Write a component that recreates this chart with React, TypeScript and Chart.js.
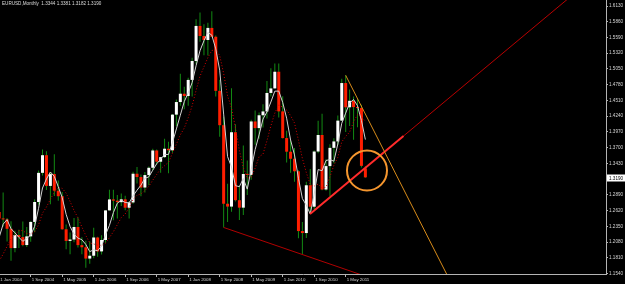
import React, { useEffect, useRef } from 'react';
import { Chart, registerables } from 'chart.js';

Chart.register(...registerables);

// ---- DATA (monthly EURUSD, index 0 = Jan 2004) ----
const opens = [
  1.2597, 1.2482, 1.2468, 1.2307, 1.1976, 1.2199, 1.2165, 1.2028, 1.2177, 1.2425, 1.2767, 1.3267,
  1.3570, 1.3043, 1.3246, 1.2961, 1.2866, 1.2299, 1.2099, 1.2123, 1.2338, 1.2027, 1.1990, 1.1796,
  1.1845, 1.2158, 1.1919, 1.2115, 1.2623, 1.2811, 1.2790, 1.2764, 1.2813, 1.2669, 1.2759, 1.3252,
  1.3195, 1.3015, 1.3229, 1.3354, 1.3651, 1.3458, 1.3537, 1.3681, 1.3654, 1.4266, 1.4482, 1.4625,
  1.4585, 1.4862, 1.5186, 1.5788, 1.5615, 1.5547, 1.5754, 1.5602, 1.4674, 1.4085, 1.2737, 1.2688,
  1.3964, 1.2798, 1.2670, 1.3247, 1.3232, 1.4149, 1.4035, 1.4255, 1.4321, 1.4638, 1.4716, 1.5002,
  1.4322, 1.3864, 1.3630, 1.3509, 1.3294, 1.2268, 1.2234, 1.3054, 1.2686, 1.3633, 1.3917, 1.2981,
  1.3383, 1.3696, 1.3806, 1.4163, 1.4808, 1.4392, 1.4503, 1.4395, 1.4380, 1.3344,
];
const highs = [
  1.2898, 1.2928, 1.2491, 1.2436, 1.2275, 1.2289, 1.2433, 1.2339, 1.2437, 1.2815, 1.3308, 1.3667,
  1.3637, 1.3283, 1.3585, 1.3137, 1.2939, 1.2381, 1.2244, 1.2493, 1.2500, 1.2161, 1.2104, 1.2091,
  1.2323, 1.2169, 1.2197, 1.2625, 1.2979, 1.2977, 1.2888, 1.2912, 1.2875, 1.2778, 1.3286, 1.3366,
  1.3240, 1.3280, 1.3375, 1.3682, 1.3669, 1.3541, 1.3852, 1.3802, 1.4279, 1.4526, 1.4967, 1.4745,
  1.4899, 1.5240, 1.5904, 1.6019, 1.5818, 1.5843, 1.6038, 1.5623, 1.4866, 1.4231, 1.3080, 1.4719,
  1.4101, 1.3046, 1.3738, 1.3480, 1.4179, 1.4338, 1.4304, 1.4445, 1.4844, 1.5062, 1.5145, 1.5144,
  1.4580, 1.3991, 1.3820, 1.3693, 1.3313, 1.2423, 1.3115, 1.3333, 1.3652, 1.4159, 1.4282, 1.3500,
  1.3758, 1.3862, 1.4249, 1.4882, 1.4940, 1.4698, 1.4579, 1.4549, 1.4434, 1.3381,
];
const lows = [
  1.2389, 1.2346, 1.2089, 1.1759, 1.1903, 1.1978, 1.2008, 1.1996, 1.2086, 1.2248, 1.2719, 1.3220,
  1.2974, 1.2728, 1.2869, 1.2790, 1.2289, 1.1954, 1.1871, 1.2077, 1.1986, 1.1872, 1.1640, 1.1709,
  1.1802, 1.1827, 1.1865, 1.2067, 1.2620, 1.2454, 1.2482, 1.2700, 1.2625, 1.2483, 1.2736, 1.3083,
  1.2865, 1.2932, 1.3056, 1.3312, 1.3412, 1.3267, 1.3520, 1.3260, 1.3612, 1.4069, 1.4419, 1.4360,
  1.4420, 1.4575, 1.5135, 1.5515, 1.5285, 1.5281, 1.5593, 1.4578, 1.3886, 1.2330, 1.2423, 1.2600,
  1.2774, 1.2457, 1.2543, 1.2885, 1.3150, 1.3748, 1.3852, 1.4045, 1.4201, 1.4578, 1.4710, 1.4218,
  1.3857, 1.3443, 1.3268, 1.3113, 1.2143, 1.1876, 1.2151, 1.2589, 1.2643, 1.3605, 1.2968, 1.2958,
  1.2871, 1.3430, 1.3746, 1.4155, 1.3968, 1.4070, 1.3837, 1.4051, 1.3360, 1.3182,
];
const closes = [
  1.2482, 1.2468, 1.2307, 1.1976, 1.2199, 1.2165, 1.2028, 1.2177, 1.2425, 1.2767, 1.3267, 1.3570,
  1.3043, 1.3246, 1.2961, 1.2866, 1.2299, 1.2099, 1.2123, 1.2338, 1.2027, 1.1990, 1.1796, 1.1845,
  1.2158, 1.1919, 1.2115, 1.2623, 1.2811, 1.2790, 1.2764, 1.2813, 1.2669, 1.2759, 1.3252, 1.3195,
  1.3015, 1.3229, 1.3354, 1.3651, 1.3458, 1.3537, 1.3681, 1.3654, 1.4266, 1.4482, 1.4625, 1.4585,
  1.4862, 1.5186, 1.5788, 1.5615, 1.5547, 1.5754, 1.5602, 1.4674, 1.4085, 1.2737, 1.2688, 1.3964,
  1.2798, 1.2670, 1.3247, 1.3232, 1.4149, 1.4035, 1.4255, 1.4321, 1.4638, 1.4716, 1.5002, 1.4322,
  1.3864, 1.3630, 1.3509, 1.3294, 1.2268, 1.2234, 1.3054, 1.2686, 1.3633, 1.3917, 1.2981, 1.3383,
  1.3696, 1.3806, 1.4163, 1.4808, 1.4392, 1.4503, 1.4395, 1.4380, 1.3387, 1.3190,
];
// white solid moving average
const maFast = [
  1.2164, 1.2386, 1.2464, 1.2308, 1.2238, 1.2162, 1.2092, 1.2142, 1.2199, 1.2349, 1.2659, 1.3007,
  1.3162, 1.3282, 1.3205, 1.3029, 1.2843, 1.2556, 1.2347, 1.2215, 1.2147, 1.2120, 1.2038, 1.1915,
  1.1947, 1.1930, 1.2009, 1.2204, 1.2367, 1.2585, 1.2747, 1.2795, 1.2759, 1.2751, 1.2873, 1.2969,
  1.3055, 1.3173, 1.3198, 1.3312, 1.3423, 1.3500, 1.3582, 1.3583, 1.3785, 1.4021, 1.4257, 1.4490,
  1.4639, 1.4815, 1.5105, 1.5363, 1.5534, 1.5676, 1.5630, 1.5394, 1.5029, 1.4275, 1.3546, 1.3369,
  1.3047, 1.3030, 1.3170, 1.2987, 1.3325, 1.3666, 1.3918, 1.4190, 1.4312, 1.4483, 1.4669, 1.4670,
  1.4476, 1.4205, 1.3831, 1.3574, 1.3175, 1.2826, 1.2713, 1.2561, 1.2902, 1.3323, 1.3304, 1.3479,
  1.3494, 1.3467, 1.3762, 1.4118, 1.4292, 1.4467, 1.4525, 1.4418, 1.4166, 1.3838,
];
// red dotted moving average
const maSlow = [
  1.1753, 1.1874, 1.2007, 1.2132, 1.2201, 1.2274, 1.2278, 1.2225, 1.2218, 1.2256, 1.2376, 1.2575,
  1.2680, 1.2815, 1.2932, 1.3018, 1.3002, 1.2919, 1.2776, 1.2622, 1.2495, 1.2338, 1.2192, 1.2065,
  1.2047, 1.2025, 1.2024, 1.2059, 1.2157, 1.2257, 1.2378, 1.2499, 1.2563, 1.2668, 1.2810, 1.2882,
  1.2907, 1.2962, 1.3036, 1.3141, 1.3239, 1.3336, 1.3390, 1.3447, 1.3604, 1.3760, 1.3919, 1.4036,
  1.4212, 1.4418, 1.4681, 1.4926, 1.5086, 1.5245, 1.5367, 1.5379, 1.5281, 1.4975, 1.4588, 1.4381,
  1.4038, 1.3652, 1.3358, 1.3178, 1.3186, 1.3348, 1.3544, 1.3588, 1.3818, 1.4074, 1.4294, 1.4430,
  1.4394, 1.4344, 1.4250, 1.4122, 1.3826, 1.3515, 1.3272, 1.3067, 1.3039, 1.3074, 1.3008, 1.3020,
  1.3198, 1.3395, 1.3533, 1.3798, 1.3893, 1.3967, 1.4143, 1.4268, 1.4229, 1.4152,
];

const priceTicks = [
  1.6130, 1.5860, 1.5590, 1.5320, 1.5050, 1.4780, 1.4510, 1.4240, 1.3970, 1.3700, 1.3430,
  1.2890, 1.2620, 1.2350, 1.2080, 1.1810, 1.1540,
];
const timeTickMonths = [0, 8, 16, 24, 32, 40, 48, 56, 64, 72, 80, 88];
const timeTickLabels = [
  '1 Jan 2004', '1 Sep 2004', '1 May 2005', '1 Jan 2006', '1 Sep 2006', '1 May 2007',
  '1 Jan 2008', '1 Sep 2008', '1 May 2009', '1 Jan 2010', '1 Sep 2010', '1 May 2011',
];

// drawn objects, as [monthIndex, price]
const lowerTrend = [[57, 1.2330], [95, 1.1447]];
const supportRay = [[78.93, 1.2560], [150, 1.6567]];
const supportSegment = [[78.93, 1.2560], [102.68, 1.3899]];
const resistanceLine = [[88, 1.4940], [116, 1.1216]];
const circleCenter = [[93.41, 1.3307]];

const titleText = 'EURUSD,Monthly  1.3344 1.3381 1.3182 1.3190';
const lastPrice = 1.3190;

const X_MIN = 0.2032;
const X_MAX = 154.11;
const Y_MIN = 1.15314;
const Y_MAX = 1.6233;

const FONT = '"Liberation Sans", Arial, sans-serif';
const AXIS = '#b4b4b4';
const LABEL = '#d6d6d6';

const toPts = (arr: number[][]) => arr.map(([x, y]) => ({ x, y }));

const overlay = {
  id: 'mtOverlay',
  beforeDraw(chart: any) {
    const { ctx } = chart;
    ctx.save();
    ctx.fillStyle = '#000000';
    ctx.fillRect(0, 0, chart.width, chart.height);
    ctx.restore();
  },
  afterDraw(chart: any) {
    const { ctx, scales, chartArea } = chart;
    ctx.save();
    ctx.font = `4.6px ${FONT}`;
    ctx.fillStyle = '#dcdcdc';
    ctx.textAlign = 'left';
    ctx.textBaseline = 'top';
    ctx.fillText(titleText, 2, 1);
    const y = Math.round(scales.y.getPixelForValue(lastPrice)) + 1;
    const left = chartArea.right;
    ctx.fillStyle = '#ffffff';
    ctx.fillRect(left + 1, y - 3.5, chart.width - left - 1, 7);
    ctx.fillStyle = '#000000';
    ctx.textBaseline = 'middle';
    ctx.fillText(lastPrice.toFixed(4), left + 3, y + 0.5);
    ctx.restore();
  },
};

export default function App() {
  const ref = useRef<HTMLCanvasElement>(null);
  useEffect(() => {
    const idx = closes.map((_, i) => i);
    const chart = new Chart(ref.current as HTMLCanvasElement, {
      type: 'bar',
      data: {
        datasets: [
          {
            type: 'bar',
            label: 'wick',
            data: idx.map((i) => ({ x: i, y: [lows[i], highs[i]] })) as any,
            backgroundColor: '#138a13',
            barThickness: 1,
            grouped: false,
            inflateAmount: 0,
            borderWidth: 0,
            order: 10,
          } as any,
          {
            type: 'bar',
            label: 'body',
            data: idx.map((i) => ({ x: i, y: [opens[i], closes[i]] })) as any,
            backgroundColor: idx.map((i) => (closes[i] >= opens[i] ? '#ffffff' : '#ff1e00')),
            barThickness: 3,
            grouped: false,
            inflateAmount: 0,
            borderWidth: 0,
            minBarLength: 1,
            order: 9,
          } as any,
          {
            type: 'line',
            label: 'slow',
            data: idx.map((i) => ({ x: i, y: maSlow[i] })),
            borderColor: '#d40000',
            borderWidth: 1,
            borderDash: [1, 2],
            pointRadius: 0,
            tension: 0,
            order: 8,
          } as any,
          {
            type: 'line',
            label: 'fast',
            data: idx.map((i) => ({ x: i, y: maFast[i] })),
            borderColor: '#d2d2d2',
            borderWidth: 1,
            pointRadius: 0,
            tension: 0,
            order: 7,
          } as any,
          {
            type: 'line',
            label: 'lowerTrend',
            data: toPts(lowerTrend),
            borderColor: '#b00000',
            borderWidth: 1,
            pointRadius: 0,
            order: 6,
          } as any,
          {
            type: 'line',
            label: 'ray',
            data: toPts(supportRay),
            borderColor: '#b80000',
            borderWidth: 1,
            pointRadius: 0,
            order: 5,
          } as any,
          {
            type: 'line',
            label: 'segment',
            data: toPts(supportSegment),
            borderColor: '#ff2b2b',
            borderWidth: 2,
            pointRadius: 0,
            order: 4,
          } as any,
          {
            type: 'line',
            label: 'resistance',
            data: toPts(resistanceLine),
            borderColor: '#d98c1a',
            borderWidth: 1,
            pointRadius: 0,
            order: 3,
          } as any,
          {
            type: 'line',
            label: 'circle',
            data: toPts(circleCenter),
            showLine: false,
            pointRadius: 20,
            pointBorderWidth: 2,
            pointBackgroundColor: 'rgba(0,0,0,0)',
            pointBorderColor: '#f5962e',
            order: 2,
          } as any,
        ],
      },
      options: {
        responsive: false,
        animation: false,
        devicePixelRatio: 1,
        events: [],
        layout: { padding: 0, autoPadding: false } as any,
        plugins: { legend: { display: false }, tooltip: { enabled: false }, title: { display: false } },
        scales: {
          x: {
            type: 'linear',
            min: X_MIN,
            max: X_MAX,
            offset: false,
            bounds: 'data',
            afterBuildTicks: (s: any) => {
              s.ticks = timeTickMonths.map((v) => ({ value: v }));
            },
            afterFit: (s: any) => {
              s.height = 10;
              s.paddingLeft = 0;
              s.paddingRight = 0;
            },
            ticks: {
              align: 'start',
              labelOffset: 1,
              padding: 0,
              maxRotation: 0,
              minRotation: 0,
              autoSkip: false,
              color: LABEL,
              font: { family: FONT, size: 4.4 },
              callback: (_v: any, i: number) => timeTickLabels[i],
            },
            grid: {
              display: true,
              drawOnChartArea: false,
              drawTicks: true,
              tickLength: 3,
              tickColor: AXIS,
              offset: false,
            },
            border: { display: true, color: AXIS, width: 1 },
          } as any,
          y: {
            type: 'linear',
            position: 'right',
            min: Y_MIN,
            max: Y_MAX,
            bounds: 'data',
            afterBuildTicks: (s: any) => {
              s.ticks = priceTicks.map((v) => ({ value: v }));
            },
            afterFit: (s: any) => {
              s.width = 19;
              s.paddingTop = 0;
              s.paddingBottom = 0;
            },
            ticks: {
              padding: 1,
              autoSkip: false,
              color: LABEL,
              font: { family: FONT, size: 4.6 },
              callback: (v: any) => Number(v).toFixed(4),
            },
            grid: {
              display: true,
              drawOnChartArea: false,
              drawTicks: true,
              tickLength: 2,
              tickColor: AXIS,
            },
            border: { display: true, color: AXIS, width: 1 },
          } as any,
        },
      },
      plugins: [overlay],
    } as any);
    return () => chart.destroy();
  }, []);

  return (
    <div style={{ position: 'fixed', left: 0, top: 0, width: 625, height: 284, background: '#000' }}>
      <canvas ref={ref} width={625} height={284} style={{ display: 'block' }} />
    </div>
  );
}
